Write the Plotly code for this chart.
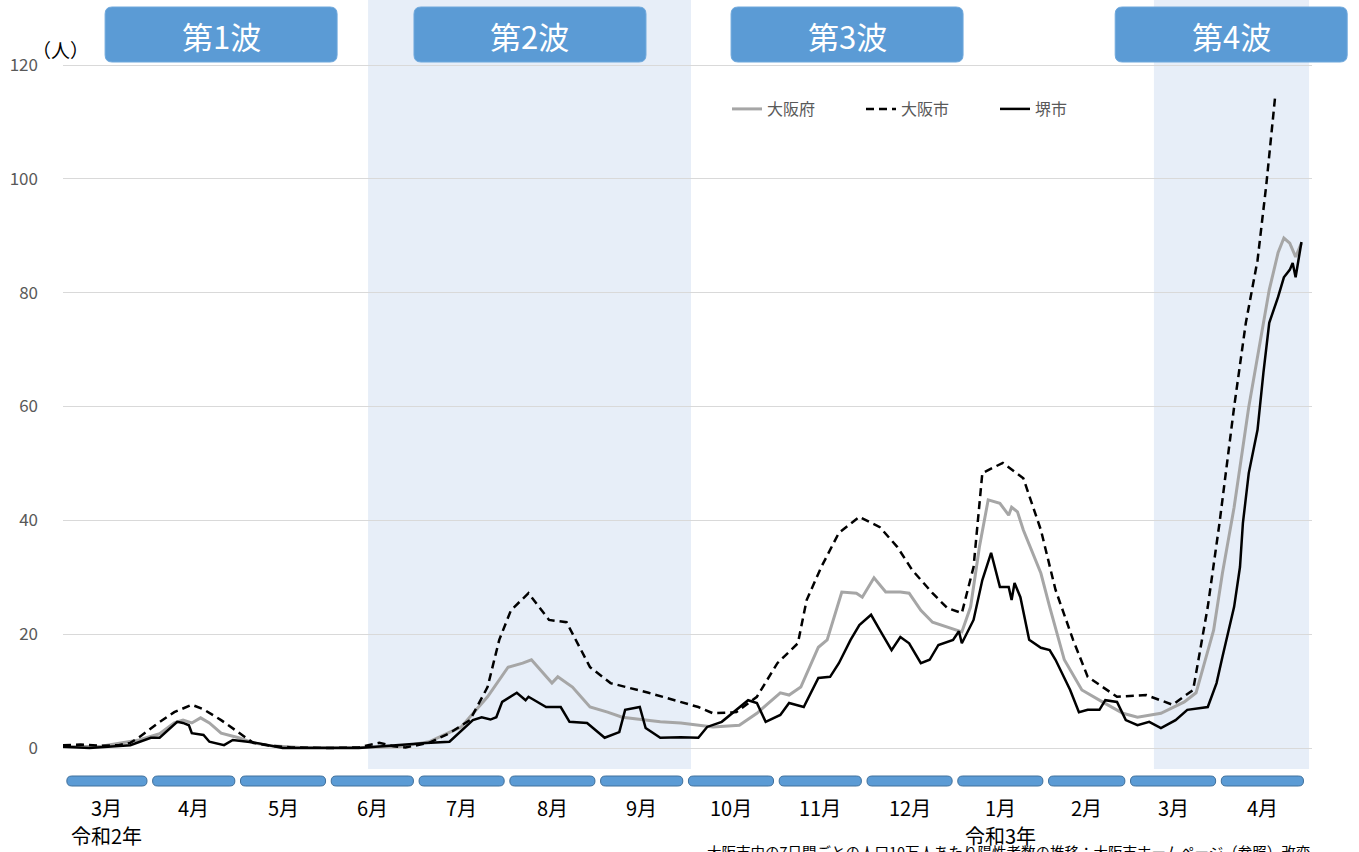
import plotly.graph_objects as go
import pandas as pd

# x values are days since 2020-03-01 (day 0)
BASE_DATE = "2020-03-01"

pref_days = [0, 13, 26, 33, 38, 41, 44, 47, 50, 54, 60, 65, 71, 81, 101, 115, 125, 136, 145, 152, 157, 160,
             167, 169, 174, 180, 186, 191, 204, 211, 222, 231, 237, 245, 248, 252, 258, 261, 266, 271, 273,
             277, 281, 286, 289, 293, 297, 302, 307, 310, 313, 316, 320, 323, 324, 326, 328, 334, 337, 342,
             348, 355, 362, 367, 375, 383, 387, 393, 396, 400, 405, 409, 412, 415, 417, 419, 421, 423]
pref_vals = [0.2, 0.3, 1.4, 2.5, 4.4, 4.9, 4.4, 5.3, 4.4, 2.6, 1.8, 0.9, 0.4, 0.1, 0.1, 0.2, 1.1, 3.7, 9.0,
             14.2, 14.9, 15.5, 11.4, 12.5, 10.7, 7.2, 6.3, 5.4, 4.6, 4.4, 3.7, 4.0, 6.1, 9.7, 9.3, 10.7, 17.7,
             19.0, 27.4, 27.2, 26.5, 29.9, 27.4, 27.4, 27.2, 24.2, 22.1, 21.3, 20.4, 24.8, 35.3, 43.6, 43.0,
             40.9, 42.3, 41.5, 38.3, 30.7, 24.8, 15.5, 10.2, 8.1, 6.1, 5.4, 6.1, 8.1, 9.7, 20.7, 30.7, 42.3,
             59.9, 71.7, 80.5, 87.0, 89.6, 88.7, 86.3, 88.7]

city_days = [0, 6, 13, 19, 23, 26, 32, 38, 44, 48, 54, 60, 65, 71, 78, 91, 101, 108, 113, 117, 125, 132, 139,
             145, 149, 153, 159, 166, 172, 180, 187, 200, 211, 217, 222, 230, 237, 244, 251, 254, 259, 265,
             272, 279, 285, 290, 297, 302, 307, 311, 314, 321, 328, 334, 339, 345, 350, 360, 370, 379, 386,
             391, 395, 400, 404, 408, 411, 414]
city_vals = [0.5, 0.6, 0.4, 0.5, 0.9, 1.9, 4.2, 6.3, 7.6, 6.8, 4.9, 2.8, 0.9, 0.4, 0.1, 0.0, 0.1, 0.9, 0.3,
             0.1, 0.9, 2.6, 4.9, 10.7, 19.0, 24.2, 27.2, 22.5, 22.1, 14.2, 11.4, 9.7, 8.1, 7.2, 6.1, 6.3, 9.0,
             14.9, 18.4, 26.0, 31.8, 37.8, 40.6, 38.8, 35.3, 31.3, 27.2, 24.6, 23.7, 31.8, 48.3, 50.1, 47.4,
             38.3, 27.8, 19.0, 12.5, 9.0, 9.3, 7.6, 10.2, 24.8, 39.5, 59.9, 74.7, 85.7, 99.0, 114.4]

sakai_days = [0, 9, 23, 30, 33, 37, 39, 41, 43, 44, 48, 50, 55, 58, 63, 66, 75, 101, 124, 132, 140, 143, 146,
              148, 150, 155, 158, 159, 165, 170, 173, 179, 185, 190, 192, 197, 199, 204, 211, 217, 220, 225,
              234, 237, 240, 245, 248, 253, 258, 262, 265, 269, 272, 276, 279, 283, 286, 289, 293, 296, 299,
              304, 306, 307, 311, 314, 317, 320, 323, 324, 325, 327, 330, 334, 337, 339, 344, 347, 350, 354,
              356, 360, 363, 367, 371, 375, 380, 384, 391, 394, 396, 400, 402, 403, 405, 408, 410, 412, 415,
              417, 419, 420, 421, 423]
sakai_vals = [0.2, 0.0, 0.5, 1.8, 1.8, 3.7, 4.6, 4.4, 4.0, 2.6, 2.3, 1.1, 0.5, 1.4, 1.1, 0.9, 0.0, 0.0, 0.9,
              1.1, 4.9, 5.4, 5.0, 5.4, 8.1, 9.7, 8.4, 9.0, 7.2, 7.2, 4.6, 4.4, 1.8, 2.8, 6.7, 7.2, 3.5, 1.8,
              1.9, 1.8, 3.7, 4.6, 8.4, 7.9, 4.6, 5.8, 7.9, 7.2, 12.3, 12.5, 14.9, 19.0, 21.6, 23.4, 20.7,
              17.2, 19.5, 18.4, 14.9, 15.5, 18.1, 19.0, 20.5, 18.4, 22.5, 29.5, 34.3, 28.3, 28.3, 26.0, 29.0,
              26.5, 19.0, 17.6, 17.2, 15.5, 10.2, 6.3, 6.7, 6.7, 8.4, 8.1, 4.9, 4.0, 4.6, 3.5, 4.9, 6.7, 7.2,
              11.4, 16.0, 24.8, 31.8, 39.5, 48.3, 55.9, 65.9, 74.7, 79.2, 82.7, 84.0, 85.2, 82.7, 88.9]

series_names = ["大阪府", "大阪市", "堺市"]

month_starts = ["2020-03-01", "2020-04-01", "2020-05-01", "2020-06-01", "2020-07-01", "2020-08-01",
                "2020-09-01", "2020-10-01", "2020-11-01", "2020-12-01", "2021-01-01", "2021-02-01",
                "2021-03-01", "2021-04-01", "2021-05-01"]
month_labels = ["3月", "4月", "5月", "6月", "7月", "8月", "9月", "10月", "11月", "12月", "1月", "2月", "3月", "4月"]
era_labels = {0: "令和2年", 10: "令和3年"}

wave_labels = ["第1波", "第2波", "第3波", "第4波"]
wave_centers = [54, 159.5, 267.8, 399]          # day index of label centre
wave_shaded = [(104.2, 214.5), (372.6, 425.6)]   # shaded periods (days)

y_ticks = [0, 20, 40, 60, 80, 100, 120]
footnote = "大阪市内の7日間ごとの人口10万人あたり陽性者数の推移：大阪市ホームページ（参照）改変"

# ---------------------------------------------------------------
W, H = 1359, 852
ML, MR, MT, MB = 63, 47, 0, 83
PW, PH = W - ML - MR, H - MT - MB
XR = [0, 426.6]
YR = [-3.69, 131.42]

base = pd.Timestamp(BASE_DATE)
mdays = [(pd.Timestamp(m) - base).days for m in month_starts]

def xp(day):
    return (day - XR[0]) / (XR[1] - XR[0])

def yp(pix):
    return (MT + PH - pix) / PH

def rrect(x0, x1, y0, y1, rx, ry):
    return (f"M{x0+rx},{y0} L{x1-rx},{y0} Q{x1},{y0} {x1},{y0+ry} L{x1},{y1-ry} Q{x1},{y1} {x1-rx},{y1} "
            f"L{x0+rx},{y1} Q{x0},{y1} {x0},{y1-ry} L{x0},{y0+ry} Q{x0},{y0} {x0+rx},{y0} Z")

FONT = "Noto Sans CJK JP"
BLUE = "#5B9BD5"

fig = go.Figure()
fig.add_trace(go.Scatter(x=pref_days, y=pref_vals, name=series_names[0], mode="lines",
                         line=dict(color="#A6A6A6", width=3)))
fig.add_trace(go.Scatter(x=city_days, y=city_vals, name=series_names[1], mode="lines",
                         line=dict(color="#000000", width=2.5, dash="8px,5px")))
fig.add_trace(go.Scatter(x=sakai_days, y=sakai_vals, name=series_names[2], mode="lines",
                         line=dict(color="#000000", width=2.5)))

shapes = []
for s, e in wave_shaded:
    shapes.append(dict(type="rect", xref="x", yref="paper", x0=s, x1=e, y0=0, y1=1,
                       fillcolor="#E7EEF8", line=dict(width=0), layer="below"))

# wave label boxes
half_w = 116 / 2.928
for lab, c in zip(wave_labels, wave_centers):
    x0, x1 = xp(c - half_w), xp(c + half_w)
    y0, y1 = yp(62), yp(7)
    shapes.append(dict(type="path", xref="paper", yref="paper",
                       path=rrect(x0, x1, y0, y1, 7 / PW, 7 / PH),
                       fillcolor=BLUE, line=dict(color="#6FA8DC", width=1), layer="above"))

# month pills
for i in range(len(month_labels)):
    s = mdays[i] - 0.4 if i > 0 else mdays[i] + 1.3
    e = mdays[i + 1] - 2.3
    x0, x1 = xp(s), xp(e)
    y0, y1 = yp(786), yp(776)
    shapes.append(dict(type="path", xref="paper", yref="paper",
                       path=rrect(x0, x1, y0, y1, 5 / PW, 5 / PH),
                       fillcolor=BLUE, line=dict(color="#41719C", width=1)))

annotations = []
for lab, c in zip(wave_labels, wave_centers):
    annotations.append(dict(text=lab, x=c, xref="x", y=yp(35), yref="paper", showarrow=False,
                            xanchor="center", yanchor="middle",
                            font=dict(family=FONT, size=31, color="white")))

for i, lab in enumerate(month_labels):
    s = mdays[i] - 0.4 if i > 0 else mdays[i] + 1.3
    e = mdays[i + 1] - 2.3
    c = (s + e) / 2
    annotations.append(dict(text=lab, x=c, xref="x", y=yp(808), yref="paper", showarrow=False,
                            xanchor="center", yanchor="middle",
                            font=dict(family=FONT, size=20, color="#000000")))
    if i in era_labels:
        annotations.append(dict(text=era_labels[i], x=c, xref="x", y=yp(835), yref="paper",
                                showarrow=False, xanchor="center", yanchor="middle",
                                font=dict(family=FONT, size=20, color="#000000")))

annotations.append(dict(text="（人）", x=(60 - ML) / PW, xref="paper", y=yp(49), yref="paper",
                        showarrow=False, xanchor="center", yanchor="middle",
                        font=dict(family=FONT, size=19, color="#000000")))
annotations.append(dict(text=footnote, x=1, xref="paper", y=yp(851), yref="paper", showarrow=False,
                        xanchor="right", yanchor="middle",
                        font=dict(family=FONT, size=14.5, color="#000000")))

fig.update_layout(
    width=W, height=H,
    margin=dict(l=ML, r=MR, t=MT, b=MB, pad=0),
    paper_bgcolor="white", plot_bgcolor="white",
    font=dict(family=FONT),
    shapes=shapes, annotations=annotations,
    showlegend=True,
    legend=dict(orientation="h", x=(727 - ML) / PW, y=yp(109), xanchor="left", yanchor="middle",
                bgcolor="rgba(0,0,0,0)", font=dict(family=FONT, size=16, color="#595959"),
                entrywidth=89, entrywidthmode="pixels", itemwidth=30),
    xaxis=dict(range=XR, visible=False, showgrid=False, zeroline=False, fixedrange=True),
    yaxis=dict(range=YR, tickvals=y_ticks, showgrid=True, gridcolor="#D9D9D9", gridwidth=1,
               zeroline=False, showline=False, ticks="", ticklabelstandoff=24,
               tickfont=dict(family=FONT, size=17, color="#595959"), fixedrange=True),
)

fig.write_html("out.html", config={"displayModeBar": False},
               post_script="document.body.style.margin='0';document.body.style.overflow='hidden';")
